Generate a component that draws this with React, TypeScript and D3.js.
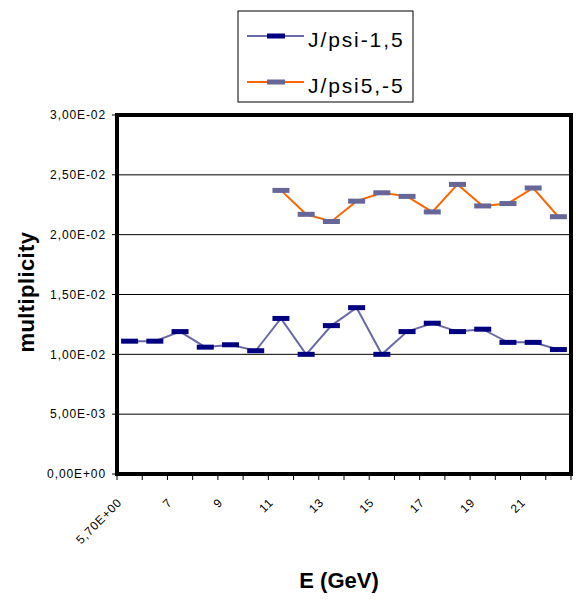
import React from "react";
import * as d3 from "d3";

const categories = ["5,70E+00", "6", "7", "8", "9", "10", "11", "12", "13", "14", "15", "16", "17", "18", "19", "20", "21", "22"];
const shownLabels = ["5,70E+00", "7", "9", "11", "13", "15", "17", "19", "21"];
const seriesA: (number | null)[] = [0.0111, 0.0111, 0.0119, 0.0106, 0.0108, 0.0103, 0.013, 0.01, 0.0124, 0.0139, 0.01, 0.0119, 0.0126, 0.0119, 0.0121, 0.011, 0.011, 0.0104];
const seriesB: (number | null)[] = [null, null, null, null, null, null, 0.0237, 0.0217, 0.0211, 0.0228, 0.0235, 0.0232, 0.0219, 0.0242, 0.0224, 0.0226, 0.0239, 0.0215];
const yTicks = [0, 0.005, 0.01, 0.015, 0.02, 0.025, 0.03];
const yTickLabels = ["0,00E+00", "5,00E-03", "1,00E-02", "1,50E-02", "2,00E-02", "2,50E-02", "3,00E-02"];
const seriesNames = ["J/psi-1,5", "J/psi5,-5"];

const L = 117, R = 571, T = 115, B = 474;

export default function App() {
  const x = d3.scaleBand<string>().domain(categories).range([L, R]);
  const y = d3.scaleLinear().domain([0, 0.03]).range([B, T]);
  const cx = (c: string) => (x(c) as number) + x.bandwidth() / 2;
  const line = d3
    .line<number | null>()
    .defined((d) => d !== null)
    .x((_, i) => cx(categories[i]))
    .y((d) => y(d as number));

  const series = [
    { name: seriesNames[0], data: seriesA, line: "#6A6AA8", marker: "#000080" },
    { name: seriesNames[1], data: seriesB, line: "#FF6600", marker: "#666699" },
  ];

  const font = "'Liberation Sans', Arial, sans-serif";
  const boundaries = [...categories.map((c) => x(c) as number), R];

  return (
    <svg width={576} height={600} style={{ position: "absolute", left: 0, top: 0, background: "#fff" }} fontFamily={font}>
      <rect x={0} y={0} width={576} height={600} fill="#fff" />
      {/* gridlines */}
      {yTicks.map((t) => (
        <line key={"g" + t} x1={L} x2={R} y1={y(t)} y2={y(t)} stroke="#000" strokeWidth={1} />
      ))}
      {/* y ticks and labels */}
      {yTicks.map((t, i) => (
        <g key={"yt" + t}>
          <line x1={112} x2={L} y1={y(t)} y2={y(t)} stroke="#000" />
          <text x={106} y={y(t)} dy="0.35em" textAnchor="end" fontSize={12} letterSpacing={0.9} fill="#000">
            {yTickLabels[i]}
          </text>
        </g>
      ))}
      {/* x ticks */}
      {boundaries.map((b, i) => (
        <line key={"xt" + i} x1={b} x2={b} y1={B} y2={480} stroke="#000" />
      ))}
      {/* x labels */}
      {shownLabels.map((lab) => {
        const ax = cx(lab) - 13;
        const ay = 497;
        return (
          <text
            key={"xl" + lab}
            transform={`translate(${ax},${ay}) rotate(-45)`}
            textAnchor="end"
            dy="0.72em"
            fontSize={12}
            letterSpacing={0.9}
            fill="#000"
          >
            {lab}
          </text>
        );
      })}
      {/* series */}
      {series.map((s) => (
        <g key={s.name}>
          <path d={line(s.data) || ""} fill="none" stroke={s.line} strokeWidth={2} />
          {s.data.map((v, i) =>
            v === null ? null : (
              <rect
                key={i}
                x={cx(categories[i]) - 8.5}
                y={y(v) - 2.5}
                width={17}
                height={5}
                fill={s.marker}
              />
            )
          )}
        </g>
      ))}
      {/* plot border */}
      <rect x={L} y={T} width={R - L} height={B - T} fill="none" stroke="#000" strokeWidth={4} />
      {/* axis titles */}
      <text
        transform={`translate(34,292) rotate(-90)`}
        textAnchor="middle"
        fontSize={22}
        fontWeight="bold"
        letterSpacing={0.4}
        fill="#000"
      >
        multiplicity
      </text>
      <text x={339} y={588} textAnchor="middle" fontSize={22} fontWeight="bold" fill="#000">
        E (GeV)
      </text>
      {/* legend */}
      <rect x={238} y={11} width={175} height={91} fill="#fff" stroke="#000" strokeWidth={1} />
      {series.map((s, i) => {
        const ly = 36 + i * 46;
        return (
          <g key={"lg" + i}>
            <line x1={247} x2={304} y1={ly} y2={ly} stroke={s.line} strokeWidth={2} />
            <rect x={267} y={ly - 2.5} width={18} height={5} fill={s.marker} />
            <text x={308} y={ly + 11} fontSize={21} letterSpacing={1.9} fill="#000">
              {s.name}
            </text>
          </g>
        );
      })}
    </svg>
  );
}
